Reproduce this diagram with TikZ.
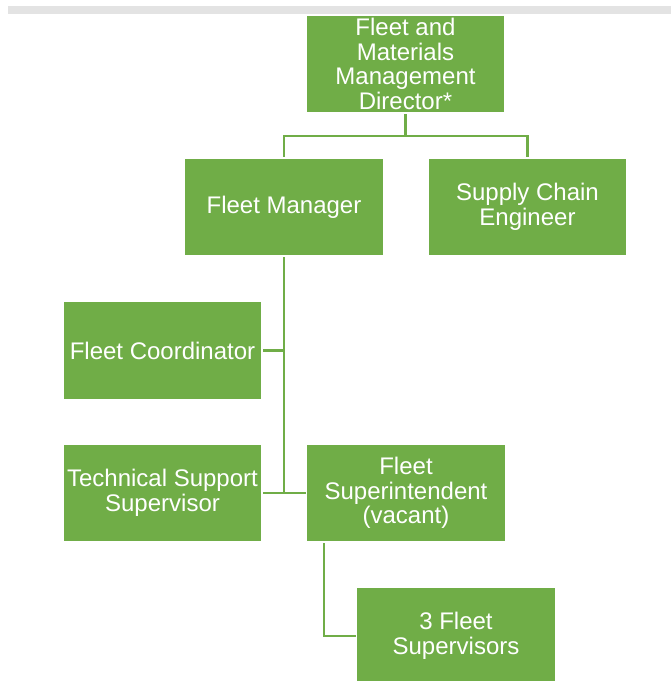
\documentclass[tikz,border=0pt]{standalone}
\usepackage{fontspec}
\setmainfont{Liberation Sans}
\usetikzlibrary{backgrounds}
\definecolor{orggreen}{HTML}{70AD47}
\definecolor{bargray}{HTML}{E3E3E3}
\begin{document}
\begin{tikzpicture}[x=1pt,y=-1pt,
  role/.style={draw=white, line width=1.2pt, fill=orggreen, text=white,
    minimum width=199pt, minimum height=98pt, inner sep=0pt, align=center,
    font=\fontsize{24}{24.5}\selectfont},
  link/.style={draw=orggreen, line width=2.2pt}]
\useasboundingbox (0,0) rectangle (671,681);
% header strip
\fill[bargray] (8,6) rectangle (671,14);
% positions
\node[role] (dir) at (405.5,64) {Fleet and\\Materials\\Management\\Director*};
\node[role] (fm)  at (284,207) {Fleet Manager};
\node[role] (sce) at (527.5,207) {Supply Chain\\Engineer};
\node[role] (fc)  at (162.5,350.5) {Fleet Coordinator};
\node[role] (tss) at (162.5,493) {Technical Support\\Supervisor};
\node[role] (fs)  at (406,493) {Fleet\\Superintendent\\(vacant)};
\node[role] (fsv) at (456,636) {3 Fleet\\Supervisors};
% reporting lines
\begin{scope}[on background layer]
  \draw[link] (dir.south) -- ++(0,22) -| (fm.north);
  \draw[link] (dir.south) -- ++(0,22) -| (sce.north);
  \draw[link] (fm.south) -- (fm.south |- tss.east);
  \draw[link] (fc.east) -- (fc.east -| fm.south);
  \draw[link] (tss.east) -- (fs.west);
  \draw[link] ([xshift=18pt]fs.south west) |- (fsv.west);
\end{scope}
\end{tikzpicture}
\end{document}
